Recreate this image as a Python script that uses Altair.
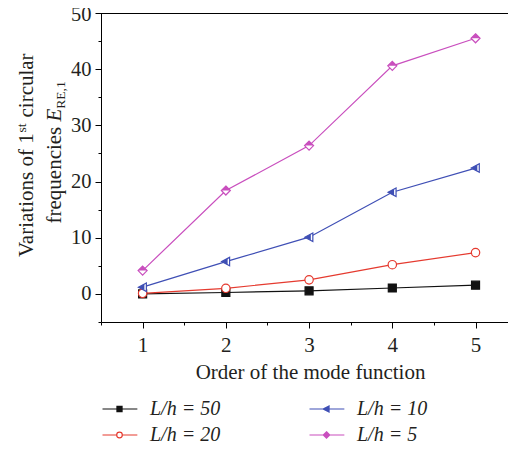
import altair as alt
import pandas as pd

# ---- data ----
modes = [1, 2, 3, 4, 5]
series_names = ["L/h = 50", "L/h = 20", "L/h = 10", "L/h = 5"]
vals_50 = [0.0, 0.25, 0.55, 1.05, 1.55]
vals_20 = [0.1, 1.0, 2.5, 5.2, 7.35]
vals_10 = [1.2, 5.75, 10.1, 18.1, 22.4]
vals_5 = [4.15, 18.4, 26.4, 40.6, 45.5]
x_ticks = [0.5, 1, 1.5, 2, 2.5, 3, 3.5, 4, 4.5, 5, 5.5]
y_ticks = [-5, 0, 5, 10, 15, 20, 25, 30, 35, 40, 45, 50]
x_title = "Order of the mode function"

colors = ["#111111", "#e53a2f", "#3f4fb5", "#c94fbe"]

# plot marker shapes (outline and filled part), per series
outline_paths = [
    "M-0.8,-0.8H0.8V0.8H-0.8Z",
    "M0.84,0A0.84,0.84 0 1,1 -0.84,0A0.84,0.84 0 1,1 0.84,0Z",
    "M-0.85,0L0.75,-0.85L0.75,0.85Z",
    "M0,-0.9L0.9,0L0,0.9L-0.9,0Z",
]
filled_paths = [
    "M-0.8,-0.8H0.8V0.8H-0.8Z",
    None,
    "M-0.85,0L0.35,-0.64L0.35,0.64Z",
    "M-0.9,0L0,-0.9L0.9,0Z",
]
# legend symbols: line with small marker
legend_paths = [
    "M-1,0H3.1M0.7,-0.3H1.3V0.3H0.7ZM0.7,-0.2H1.3M0.7,-0.1H1.3M0.7,0H1.3M0.7,0.1H1.3M0.7,0.2H1.3",
    "M-1,0H0.67M1.33,0H3.1M1.33,0A0.33,0.33 0 1,1 0.67,0A0.33,0.33 0 1,1 1.33,0Z",
    "M-1,0H3.1M0.6,0L1.3,-0.35L1.3,0.35ZM0.8,-0.1H1.3M0.8,0.1H1.3M1.0,-0.2H1.3M1.0,0.2H1.3M1.2,-0.3H1.3M1.2,0.3H1.3",
    "M-1,0H3.1M1,-0.38L1.38,0L1,0.38L0.62,0ZM0.72,-0.1H1.28M0.72,0.1H1.28M0.82,-0.2H1.18M0.82,0.2H1.18M0.92,-0.3H1.08M0.92,0.3H1.08",
]

rows = []
for name, vals in zip(series_names, [vals_50, vals_20, vals_10, vals_5]):
    for m, v in zip(modes, vals):
        rows.append({"mode": m, "value": v, "series": name})
df = pd.DataFrame(rows)

FONT = "Liberation Serif"
TXT = "#231f20"

x_scale = alt.Scale(domain=[0.5, 5.39], nice=False, zero=False)
x_enc = alt.X(
    "mode:Q",
    scale=x_scale,
    axis=alt.Axis(
        values=x_ticks,
        labelExpr="datum.value % 1 == 0 ? format(datum.value, 'd') : ''",
        tickSize={"condition": {"test": "datum.value % 1 == 0", "value": 6}, "value": 3},
        tickColor="black", domainColor="black", tickWidth=1, domainWidth=1,
        labelFont=FONT, labelFontSize=21, labelColor=TXT, labelPadding=6,
        labelFlush=False, labelOverlap=False, grid=False,
        titleFont=FONT, titleFontSize=21, titleFontWeight="normal", titleColor=TXT,
        titlePadding=6, titleX=209,
    ),
    title=x_title,
)
y_enc = alt.Y(
    "value:Q",
    scale=alt.Scale(domain=[-5, 50], nice=False, zero=False),
    axis=alt.Axis(
        values=y_ticks,
        labelExpr="datum.value % 10 == 0 ? datum.label : ''",
        tickSize={"condition": {"test": "datum.value % 10 == 0", "value": 6}, "value": 3},
        labelOffset={"condition": {"test": "datum.value == 50", "value": 1.5}, "value": 0},
        tickColor="black", domainColor="black", tickWidth=1, domainWidth=1,
        labelFont=FONT, labelFontSize=20.5, labelColor=TXT, labelPadding=4,
        labelOverlap=False, grid=False,
    ),
    title=None,
)

color_scale = alt.Scale(domain=series_names, range=colors)

one = pd.DataFrame({"k": [0]})

# invisible layer that only carries the legend
legend_layer = alt.Chart().mark_point(filled=False, opacity=0, strokeWidth=1.2).encode(
    x=x_enc, y=y_enc,
    color=alt.Color("series:N", scale=color_scale, title=None),
    shape=alt.Shape("series:N", scale=alt.Scale(domain=series_names, range=legend_paths), title=None),
)

# top frame line of the plot box
top_line = alt.Chart(one).mark_rule(color="black", strokeWidth=1).encode(
    x=alt.value(0), x2=alt.value(407), y=alt.value(0.5)
)

series_layers = []
for name, col in zip(series_names, colors):
    series_layers.append(
        alt.Chart().mark_line(strokeWidth=1.2, color=col)
        .encode(x=x_enc, y=y_enc)
        .transform_filter(alt.datum.series == name)
    )
for name, col, op, fp in zip(series_names, colors, outline_paths, filled_paths):
    series_layers.append(
        alt.Chart().mark_point(filled=True, fill="white", stroke=col, strokeWidth=1.2,
                               opacity=1, shape=op, size=100)
        .encode(x=x_enc, y=y_enc)
        .transform_filter(alt.datum.series == name)
    )
    if fp is not None:
        series_layers.append(
            alt.Chart().mark_point(filled=True, fill=col, strokeWidth=0, opacity=1, shape=fp, size=100)
            .encode(x=x_enc, y=y_enc)
            .transform_filter(alt.datum.series == name)
        )


def piece(text, x, y, size=21, style="normal"):
    return alt.Chart(one).mark_text(
        text=text, angle=270, align="left", baseline="alphabetic",
        font=FONT, fontSize=size, fontStyle=style, color=TXT,
    ).encode(x=alt.value(x), y=alt.value(y))


title_layers = [
    piece("Variations of 1", -68, 244),
    piece("st", -75, 119.5, size=13.5),
    piece("circular", -68, 104.5),
    piece("frequencies", -40, 210.5),
    piece("E", -40, 108.5, style="italic"),
    piece("RE,1", -36, 95.7, size=13.5),
]

chart = alt.layer(legend_layer, top_line, *series_layers, *title_layers, data=df).properties(
    width=407, height=309,
    padding={"left": 93, "top": 5, "right": 0, "bottom": 121},
    autosize=alt.AutoSizeParams(type="none"),
).configure_view(
    stroke=None
).configure_legend(
    orient="none", legendX=0, legendY=386, columns=2, columnPadding=86, rowPadding=6,
    labelFont=FONT, labelFontSize=20, labelFontStyle="italic", labelColor=TXT,
    symbolSize=289, symbolStrokeWidth=1.2, symbolOpacity=1, labelOffset=29,
)

chart.save("out.html", embed_options={"renderer": "svg", "actions": False})
